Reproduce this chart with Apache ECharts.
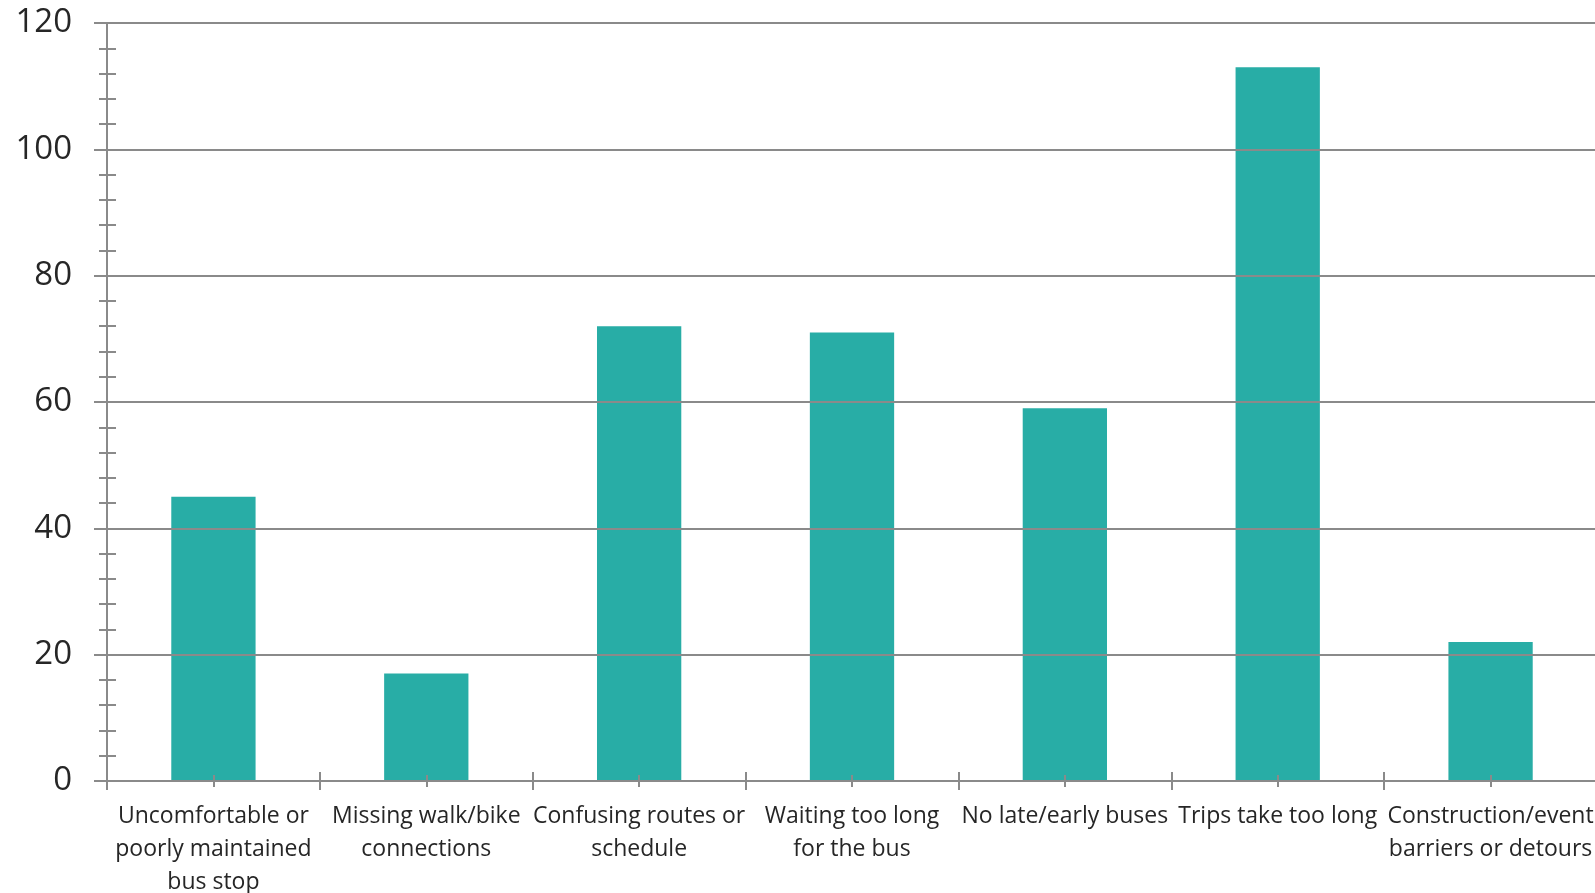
<!DOCTYPE html>
<html>
<head>
<meta charset="utf-8">
<script src="https://cdn.jsdelivr.net/npm/echarts@6/dist/echarts.min.js"></script>
<style>
html,body{margin:0;padding:0;background:#fff;}
#chart{width:1595px;height:893px;}
</style>
</head>
<body>
<div id="chart"></div>
<script>
const categories = [
  'Uncomfortable or\npoorly maintained\nbus stop',
  'Missing walk/bike\nconnections',
  'Confusing routes or\nschedule',
  'Waiting too long\nfor the bus',
  'No late/early buses',
  'Trips take too long',
  'Construction/event\nbarriers or detours'
];
const values = [45, 17, 72, 71, 59, 113, 22];
const yMin = 0, yMax = 120, yInterval = 20;

const FONT = '"Open Sans", "Noto Sans", sans-serif';
const LINE = '#8a8a8a';
const TEXT = '#262626';

const chart = echarts.init(document.getElementById('chart'), null, {renderer: 'canvas'});

function extraX(alignWithLabel, inside, len) {
  return {
    type: 'category', data: categories, position: 'bottom', offset: 0, z: 3,
    axisLine: {show: false},
    axisTick: {show: true, alignWithLabel: alignWithLabel, inside: inside, length: len,
      lineStyle: {color: LINE, width: 2}},
    axisLabel: {show: false},
    splitLine: {show: false}
  };
}

chart.setOption({
  animation: false,
  backgroundColor: '#ffffff',
  grid: {left: 107, right: -2, top: 23, bottom: 112, containLabel: false, outerBoundsMode: 'none'},
  xAxis: [
    {
      type: 'category', data: categories, position: 'bottom', z: 3,
      axisLine: {show: true, lineStyle: {color: LINE, width: 2}},
      axisTick: {show: true, alignWithLabel: false, length: 9, lineStyle: {color: LINE, width: 2}},
      axisLabel: {interval: 0, margin: 19, color: TEXT, fontFamily: FONT, fontSize: 23, lineHeight: 33, hideOverlap: false},
      splitLine: {show: false}
    },
    extraX(false, true, 9),
    extraX(true, false, 6),
    extraX(true, true, 6)
  ],
  yAxis: [
    {
      type: 'value', position: 'left', min: yMin, max: yMax, interval: yInterval, z: 3,
      axisLine: {show: true, lineStyle: {color: LINE, width: 2}},
      axisTick: {show: true, length: 13, lineStyle: {color: LINE, width: 2}},
      minorTick: {show: true, splitNumber: 5, length: 8, lineStyle: {color: LINE, width: 2}},
      axisLabel: {margin: 35, color: TEXT, fontFamily: FONT, fontSize: 33},
      splitLine: {show: true, lineStyle: {color: LINE, width: 2}}
    },
    {
      type: 'value', position: 'left', offset: 0, min: yMin, max: yMax, interval: yInterval, z: 3,
      axisLine: {show: false},
      axisTick: {show: false, inside: true},
      minorTick: {show: true, splitNumber: 5, length: 9, lineStyle: {color: LINE, width: 2}},
      axisLabel: {show: false},
      splitLine: {show: false}
    }
  ],
  series: [{
    type: 'bar', data: values, xAxisIndex: 0, yAxisIndex: 0,
    barWidth: '39.6%',
    itemStyle: {color: '#28ADA6'},
    z: 2
  }]
});
</script>
</body>
</html>
